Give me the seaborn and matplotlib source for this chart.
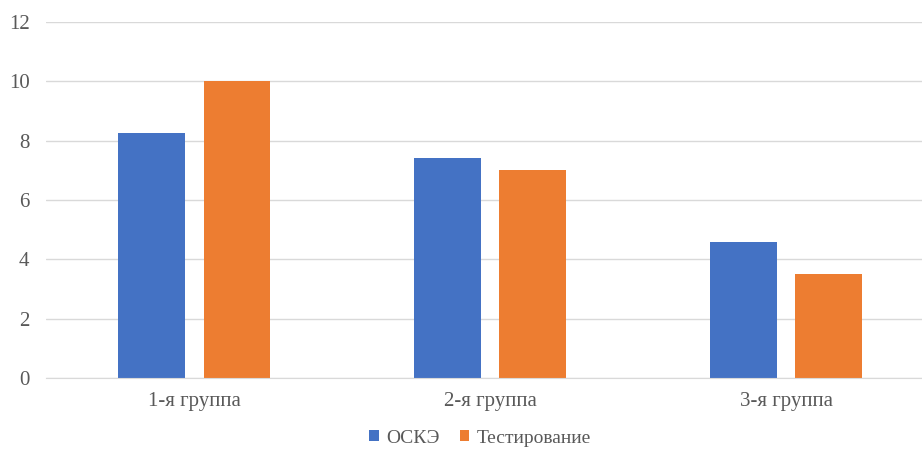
import pandas as pd
import matplotlib.pyplot as plt
import seaborn as sns

groups = ['1-я группа', '2-я группа', '3-я группа']
oske = [8.25, 7.4, 4.6]
testing = [10, 7, 3.5]
series = ['ОСКЭ', 'Тестирование']

df = pd.DataFrame({
    'group': groups * 2,
    'value': oske + testing,
    'series': [series[0]] * 3 + [series[1]] * 3,
})

sns.set_style('white')
plt.rcParams['font.family'] = ['Liberation Serif', 'DejaVu Serif']

fig = plt.figure(figsize=(9.22, 4.49), dpi=100)
ax = fig.add_axes([0.05, 0.158, 0.963, 0.793])

sns.barplot(data=df, x='group', y='value', hue='series', ax=ax,
            palette={'ОСКЭ': '#4472C4', 'Тестирование': '#ED7D31'},
            width=0.58, gap=0.22, edgecolor='none', saturation=1)

ax.set_ylim(0, 12)
ax.set_yticks(range(0, 13, 2))
ax.yaxis.grid(True, color='#D9D9D9', linewidth=1)
ax.set_axisbelow(True)
for s in ['top', 'right', 'left']:
    ax.spines[s].set_visible(False)
ax.spines['bottom'].set_color('#D9D9D9')
ax.set_xlabel('')
ax.set_ylabel('')
ax.tick_params(axis='both', length=0, labelsize=15, labelcolor='#595959')
ax.tick_params(axis='y', pad=12)
ax.tick_params(axis='x', pad=10)

ax.legend(loc='center', bbox_to_anchor=(0.489, -0.169), ncol=2, frameon=False,
          fontsize=14, labelcolor='#595959', handlelength=0.5, handleheight=0.5,
          handletextpad=0.4, columnspacing=1.0)

plt.savefig('out.png', dpi=100)
